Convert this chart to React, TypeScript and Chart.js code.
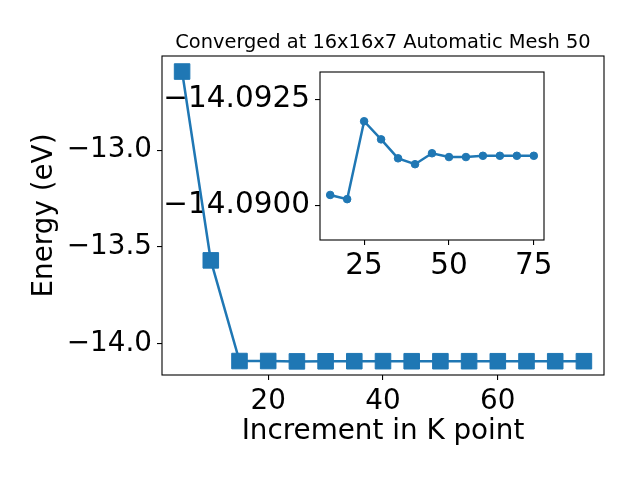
import React, { useEffect, useRef } from "react";
import { Chart, registerables } from "chart.js";

Chart.register(...registerables);

// ---- data ----
const kPoints = [5, 10, 15, 20, 25, 30, 35, 40, 45, 50, 55, 60, 65, 70, 75];
const energies = [
  -12.594, -13.57, -14.09024, -14.09014, -14.09199, -14.09156, -14.09111,
  -14.09097, -14.09123, -14.09114, -14.09114, -14.09117, -14.09117,
  -14.09117, -14.09117,
];
const insetStartIndex = 2;
const mainXTicks = [20, 40, 60];
const mainYTicks = [-14.0, -13.5, -13.0];
const insetXTicks = [25, 50, 75];
const insetYTicks = [-14.0925, -14.09];
const titleText = "Converged at 16x16x7 Automatic Mesh 50";
const xLabel = "Increment in K point";
const yLabel = "Energy (eV)";

const COLOR = "#1f77b4";
const FAMILY = "'DejaVu Sans', sans-serif";
const TICK_SIZE = 27.8;
const INSET_TICK_SIZE = 29.5;

const fmt = (v: number, d: number) => v.toFixed(d).replace("-", "\u2212");

const framePlugin = {
  id: "frame",
  afterDatasetsDraw(chart: any) {
    const { ctx, chartArea: a } = chart;
    ctx.save();
    ctx.strokeStyle = "#000";
    ctx.lineWidth = 1.1;
    ctx.strokeRect(a.left, a.top, a.right - a.left, a.bottom - a.top);
    ctx.restore();
  },
};

const titlePlugin = {
  id: "mpltitle",
  afterDraw(chart: any) {
    const { ctx, chartArea: a } = chart;
    ctx.save();
    ctx.fillStyle = "#000";
    ctx.font = `19.4px ${FAMILY}`;
    ctx.textAlign = "center";
    ctx.textBaseline = "alphabetic";
    ctx.fillText(titleText, (a.left + a.right) / 2, 48);
    ctx.restore();
  },
};

const tickGrid = {
  display: true,
  drawOnChartArea: false,
  drawTicks: true,
  tickLength: 5,
  tickColor: "#000",
  tickWidth: 1.1,
  lineWidth: 1.1,
};

export default function App() {
  const mainRef = useRef<HTMLCanvasElement | null>(null);
  const insetRef = useRef<HTMLCanvasElement | null>(null);

  useEffect(() => {
    document.body.style.margin = "0";
    const mainChart = new Chart(mainRef.current as HTMLCanvasElement, {
      type: "line",
      data: {
        datasets: [
          {
            data: kPoints.map((x, i) => ({ x, y: energies[i] })),
            borderColor: COLOR,
            backgroundColor: COLOR,
            borderWidth: 2.5,
            pointStyle: "rect",
            pointRadius: 11,
            pointBorderWidth: 1,
            pointBorderColor: COLOR,
            pointBackgroundColor: COLOR,
            tension: 0,
          },
        ],
      },
      options: {
        animation: false,
        responsive: false,
        events: [],
        layout: { padding: { top: 56, right: 36, left: 0, bottom: 0 } },
        plugins: { legend: { display: false }, tooltip: { enabled: false } },
        scales: {
          x: {
            type: "linear",
            min: 1.5,
            max: 78.5,
            afterBuildTicks: (s: any) => {
              s.ticks = mainXTicks.map((v) => ({ value: v }));
            },
            afterFit: (s: any) => {
              s.height = 105;
            },
            ticks: {
              font: { family: FAMILY, size: TICK_SIZE },
              color: "#000",
              padding: 5,
              maxRotation: 0,
              autoSkip: false,
              callback: (v: any) => fmt(Number(v), 0),
            },
            grid: tickGrid,
            border: { display: false },
            title: {
              display: true,
              text: xLabel,
              color: "#000",
              font: { family: FAMILY, size: TICK_SIZE },
              padding: { top: 0, bottom: 32 },
            },
          },
          y: {
            type: "linear",
            min: -14.1624,
            max: -12.5137,
            afterBuildTicks: (s: any) => {
              s.ticks = mainYTicks.map((v) => ({ value: v }));
            },
            afterFit: (s: any) => {
              s.width = 162;
            },
            ticks: {
              font: { family: FAMILY, size: TICK_SIZE },
              color: "#000",
              padding: 5,
              autoSkip: false,
              callback: (v: any) => fmt(Number(v), 1),
            },
            grid: tickGrid,
            border: { display: false },
            title: {
              display: true,
              text: yLabel,
              color: "#000",
              font: { family: FAMILY, size: TICK_SIZE },
              padding: { top: 28, bottom: 0 },
            },
          },
        },
      },
      plugins: [framePlugin, titlePlugin],
    } as any);

    const insetChart = new Chart(insetRef.current as HTMLCanvasElement, {
      type: "line",
      data: {
        datasets: [
          {
            data: kPoints
              .slice(insetStartIndex)
              .map((x, i) => ({ x, y: energies[i + insetStartIndex] })),
            borderColor: COLOR,
            backgroundColor: COLOR,
            borderWidth: 2.5,
            pointStyle: "circle",
            pointRadius: 3.8,
            pointBorderWidth: 1,
            pointBorderColor: COLOR,
            pointBackgroundColor: COLOR,
            tension: 0,
          },
        ],
      },
      options: {
        animation: false,
        responsive: false,
        events: [],
        layout: { padding: { top: 27, right: 36, left: 0, bottom: 0 } },
        plugins: { legend: { display: false }, tooltip: { enabled: false } },
        scales: {
          x: {
            type: "linear",
            min: 12,
            max: 78,
            afterBuildTicks: (s: any) => {
              s.ticks = insetXTicks.map((v) => ({ value: v }));
            },
            afterFit: (s: any) => {
              s.height = 55;
            },
            ticks: {
              font: { family: FAMILY, size: INSET_TICK_SIZE },
              color: "#000",
              padding: 4,
              maxRotation: 0,
              autoSkip: false,
              callback: (v: any) => fmt(Number(v), 0),
            },
            grid: tickGrid,
            border: { display: false },
          },
          y: {
            type: "linear",
            reverse: true,
            min: -14.09316,
            max: -14.08917,
            afterBuildTicks: (s: any) => {
              s.ticks = insetYTicks.map((v) => ({ value: v }));
            },
            afterFit: (s: any) => {
              s.width = 190;
            },
            ticks: {
              font: { family: FAMILY, size: INSET_TICK_SIZE },
              color: "#000",
              padding: 5,
              autoSkip: false,
              callback: (v: any) => fmt(Number(v), 4),
            },
            grid: tickGrid,
            border: { display: false },
          },
        },
      },
      plugins: [framePlugin],
    } as any);

    return () => {
      mainChart.destroy();
      insetChart.destroy();
    };
  }, []);

  return (
    <div
      style={{
        position: "absolute",
        left: 0,
        top: 0,
        width: 640,
        height: 480,
        background: "#fff",
      }}
    >
      <canvas
        ref={insetRef}
        width={450}
        height={250}
        style={{
          position: "absolute",
          left: 130,
          top: 45,
          width: 450,
          height: 250,
          zIndex: 1,
        }}
      />
      <canvas
        ref={mainRef}
        width={640}
        height={480}
        style={{
          position: "absolute",
          left: 0,
          top: 0,
          width: 640,
          height: 480,
          zIndex: 2,
        }}
      />
    </div>
  );
}
